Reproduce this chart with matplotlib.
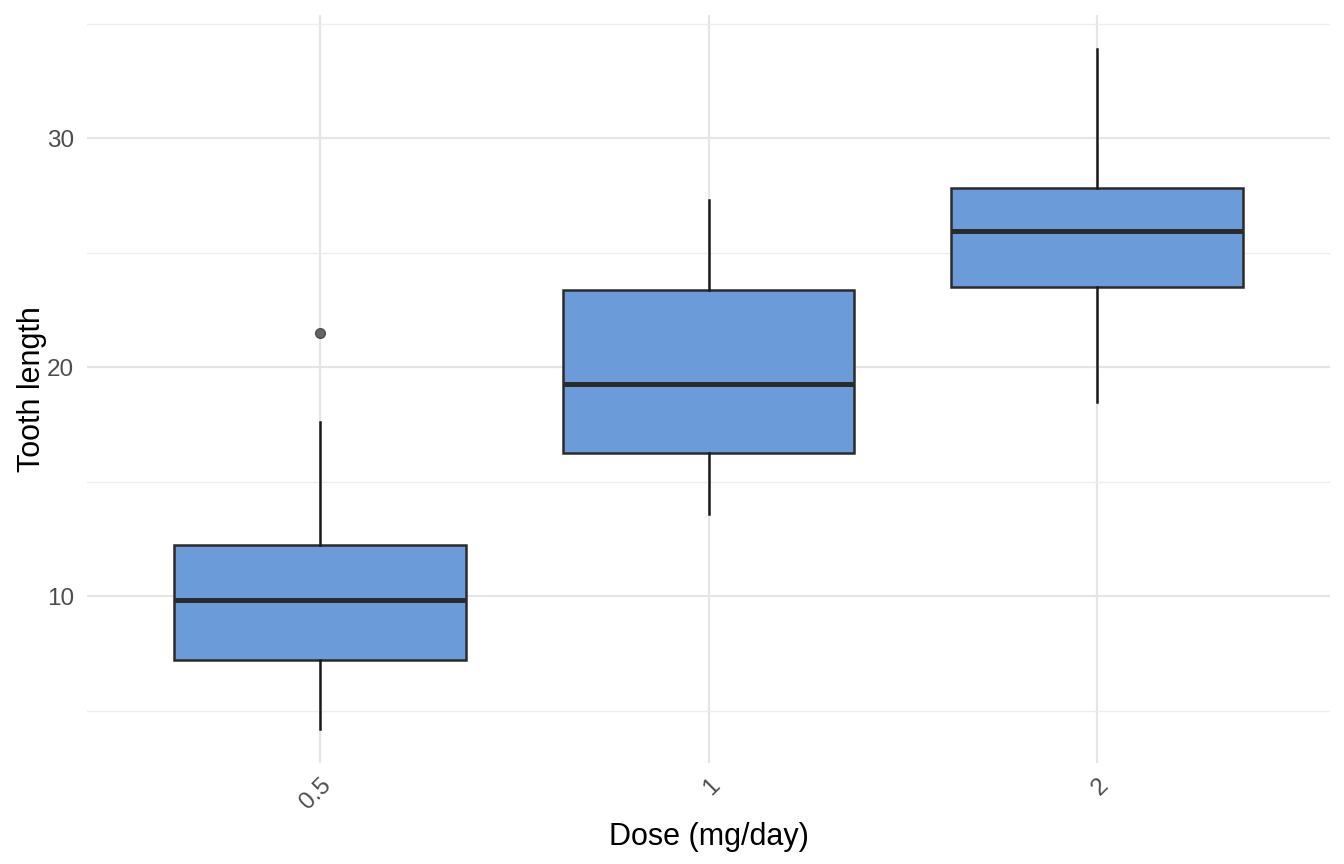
import matplotlib
matplotlib.use("Agg")
import matplotlib.pyplot as plt

plt.rcParams['font.family'] = ['Liberation Sans', 'DejaVu Sans']

doses = ["0.5", "1", "2"]
whislo = [4.2, 13.6, 18.5]
q1 = [7.225, 16.25, 23.525]
med = [9.85, 19.25, 25.95]
q3 = [12.25, 23.375, 27.825]
whishi = [17.6, 27.3, 33.9]
outliers = [[21.5], [], []]

fig = plt.figure(figsize=(13.44, 8.64), dpi=100)
ax = fig.add_axes([87/1344, 1 - 763/864, (1330-87)/1344, (763-15)/864])

stats = []
for i, d in enumerate(doses):
    stats.append(dict(label=d, whislo=whislo[i], q1=q1[i], med=med[i], q3=q3[i],
                      whishi=whishi[i], fliers=outliers[i]))

positions = list(range(1, len(doses) + 1))
ax.bxp(stats, positions=positions, widths=0.75, patch_artist=True, showcaps=False,
       boxprops=dict(facecolor="#6b9bd8", edgecolor="#2b2b2b", linewidth=1.8),
       medianprops=dict(color="#2b2b2b", linewidth=3.6),
       whiskerprops=dict(color="#1a1a1a", linewidth=1.8),
       flierprops=dict(marker="o", markerfacecolor="#555555", markeredgecolor="#444444",
                       markersize=7, alpha=0.9),
       zorder=3)

ax.set_xlim(0.4, len(doses) + 0.6)
ax.set_ylim(2.715, 35.385)
ax.set_yticks([10, 20, 30])
ax.set_yticks([5, 15, 25, 35], minor=True)
ax.set_xticks(positions)
ax.set_xticklabels(doses, rotation=45, ha="right", va="top", rotation_mode="anchor")

ax.grid(True, which="major", color="#e5e5e5", linewidth=1.6, zorder=0)
ax.grid(True, which="minor", axis="y", color="#ececec", linewidth=1.0, zorder=0)
ax.set_axisbelow(True)
for s in ax.spines.values():
    s.set_visible(False)
ax.tick_params(axis="both", which="both", length=0, labelsize=17.5, labelcolor="#4d4d4d")
ax.tick_params(axis="x", pad=8)
ax.tick_params(axis="y", pad=9.5)

ax.set_xlabel("Dose (mg/day)", fontsize=22, color="black", labelpad=6)
ax.set_ylabel("Tooth length", fontsize=22, color="black", labelpad=0)

fig.savefig("out.png", dpi=100, facecolor="white")
